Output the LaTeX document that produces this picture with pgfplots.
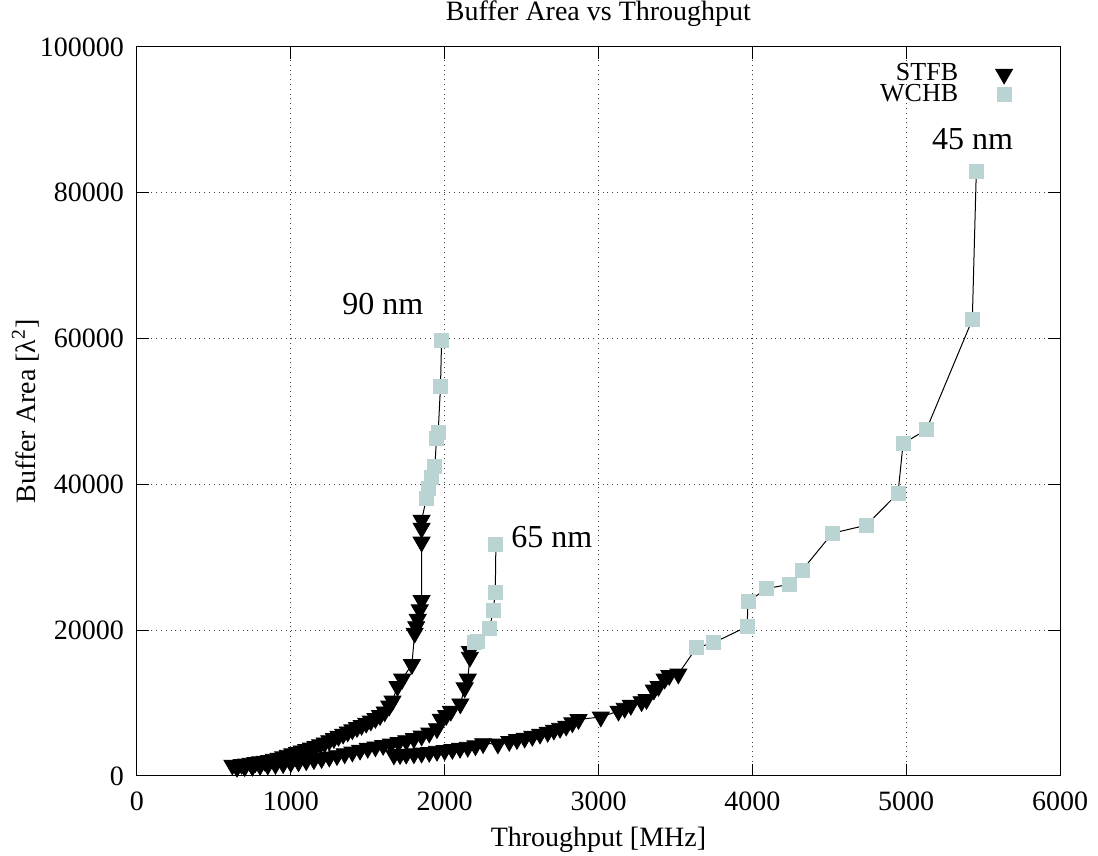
\documentclass[border=0pt]{standalone}
\usepackage{fontspec}
\setmainfont{Liberation Serif}
\usepackage{pgfplots}
\pgfplotsset{compat=1.18}
\usepackage{pgfplotstable}
\definecolor{wchb}{RGB}{185,212,211}
\pgfplotsset{legend image code/.code={\path[draw=none,fill=none] (-21pt,0pt) -- (0pt,0pt); \draw[mark repeat=1,#1] plot coordinates {(0pt,0pt)};}}

% t = 0: STFB, t = 1: WCHB
\pgfplotstableread{
x y t
620 1500 0
650 1450 0
680 1600 0
710 1650 0
740 1750 0
770 1850 0
800 1950 0
830 2050 0
860 2150 0
890 2300 0
920 2450 0
950 2650 0
980 2850 0
1010 3050 0
1040 3250 0
1070 3450 0
1100 3650 0
1130 3850 0
1160 4050 0
1190 4300 0
1220 4550 0
1250 4850 0
1280 5150 0
1310 5450 0
1340 5750 0
1370 6050 0
1400 6350 0
1430 6650 0
1460 6950 0
1490 7250 0
1520 7550 0
1550 7900 0
1580 8300 0
1610 8800 0
1640 9600 0
1661 10300 0
1693 12300 0
1724 13300 0
1787 15300 0
1805 19600 0
1815 20500 0
1825 21500 0
1838 22800 0
1850 24100 0
1850 32100 0
1850 34000 0
1850 35100 0
1882 38100 1
1891 39500 1
1915 41000 1
1936 42400 1
1947 46300 1
1958 47200 1
1973 53500 1
1980 59800 1
}\nmninety

\pgfplotstableread{
x y t
650 1200 0
700 1300 0
750 1350 0
800 1450 0
850 1500 0
900 1600 0
950 1700 0
1000 1850 0
1050 1950 0
1100 2100 0
1150 2250 0
1200 2400 0
1250 2600 0
1300 2800 0
1350 3050 0
1400 3300 0
1450 3550 0
1500 3800 0
1550 4000 0
1600 4200 0
1650 4400 0
1700 4600 0
1750 4850 0
1800 5150 0
1850 5500 0
1900 5900 0
1950 6500 0
1975 7800 0
2010 8300 0
2040 8900 0
2102 9900 0
2130 12100 0
2150 13300 0
2164 16300 0
2164 17100 0
2195 18300 1
2215 18500 1
2291 20200 1
2316 22700 1
2329 25200 1
2333 31800 1
}\nmsixtyfive

\pgfplotstableread{
x y t
1670 2900 0
1710 2950 0
1750 3000 0
1800 3050 0
1850 3150 0
1900 3250 0
1950 3400 0
2000 3500 0
2050 3650 0
2100 3800 0
2150 3950 0
2200 4150 0
2250 4450 0
2346 4400 0
2420 4750 0
2470 5000 0
2520 5200 0
2570 5450 0
2620 5750 0
2670 6000 0
2710 6300 0
2750 6550 0
2790 6850 0
2830 7300 0
2870 7750 0
3015 8100 0
3130 8900 0
3170 9300 0
3210 9700 0
3280 10200 0
3312 10500 0
3360 11800 0
3390 12300 0
3430 13300 0
3460 13800 0
3519 14000 0
3637 17600 1
3750 18300 1
3966 20500 1
3972 23900 1
4091 25700 1
4243 26300 1
4323 28200 1
4520 33300 1
4741 34400 1
4947 38800 1
4980 45600 1
5131 47500 1
5430 62600 1
5456 83000 1
}\nmfortyfive

\begin{document}
\fontsize{14}{17}\selectfont
\begin{tikzpicture}
\useasboundingbox (-68.5pt,-40pt) rectangle (480.5pt,388pt);
\begin{axis}[
  at={(0,0)}, anchor=south west,
  width=461.5pt, height=364.5pt, scale only axis,
  xmin=0, xmax=6000, ymin=0, ymax=100000,
  xtick={0,1000,...,6000}, ytick={0,20000,...,100000},
  scaled ticks=false,
  /pgf/number format/fixed,
  /pgf/number format/1000 sep={},
  /pgf/number format/assume math mode=true,
  tick align=inside, tick pos=both, major tick length=6pt,
  minor tick num=0,
  tick style={black, line width=0.5pt},
  axis line style={black, line width=0.5pt},
  grid=major,
  major grid style={dotted, black!75, line width=0.5pt},
  xticklabel style={yshift=-3pt},
  yticklabel style={xshift=-1.7pt},
  title={Buffer Area vs Throughput},
  every axis title shift=0pt,
  title style={at={(axis description cs:0.5,1)}, anchor=base, yshift=13pt},
  xlabel={Throughput [MHz]},
  xlabel style={at={(axis description cs:0.5,0)}, anchor=base, yshift=-35.5pt},
  ylabel={Buffer Area [λ\textsuperscript{2}]},
  ylabel style={at={(axis description cs:-0.1208,0.5)}, anchor=center},
  legend style={draw=none, fill=none, at={(axis description cs:1,1)}, anchor=north east,
    xshift=-20.5pt, yshift=-4pt, row sep=-4.5pt, font=\fontsize{13}{15}\selectfont},
  legend cell align=right,
  legend plot pos=right,
]
% markers
\addplot[only marks, mark=triangle*, mark size=4.9pt, mark options={rotate=180, fill=black, draw=black},
  restrict expr to domain={\thisrow{t}}{0:0}] table[x=x, y=y] {\nmninety};
\addlegendentry{STFB}
\addplot[only marks, mark=square*, mark size=3.5pt, mark options={fill=wchb, draw=wchb},
  restrict expr to domain={\thisrow{t}}{1:1}] table[x=x, y=y] {\nmninety};
\addlegendentry{WCHB}
\addplot[forget plot, only marks, mark=triangle*, mark size=4.9pt, mark options={rotate=180, fill=black, draw=black},
  restrict expr to domain={\thisrow{t}}{0:0}] table[x=x, y=y] {\nmsixtyfive};
\addplot[forget plot, only marks, mark=square*, mark size=3.5pt, mark options={fill=wchb, draw=wchb},
  restrict expr to domain={\thisrow{t}}{1:1}] table[x=x, y=y] {\nmsixtyfive};
\addplot[forget plot, only marks, mark=triangle*, mark size=4.9pt, mark options={rotate=180, fill=black, draw=black},
  restrict expr to domain={\thisrow{t}}{0:0}] table[x=x, y=y] {\nmfortyfive};
\addplot[forget plot, only marks, mark=square*, mark size=3.5pt, mark options={fill=wchb, draw=wchb},
  restrict expr to domain={\thisrow{t}}{1:1}] table[x=x, y=y] {\nmfortyfive};
% connecting lines
\addplot[forget plot, black, line width=0.5pt, no marks] table[x=x, y=y] {\nmninety};
\addplot[forget plot, black, line width=0.5pt, no marks] table[x=x, y=y] {\nmsixtyfive};
\addplot[forget plot, black, line width=0.5pt, no marks] table[x=x, y=y] {\nmfortyfive};
% annotations
\node[anchor=center, font=\fontsize{16}{19}\selectfont] at (axis cs:1598,64700) {90 nm};
\node[anchor=center, font=\fontsize{16}{19}\selectfont] at (axis cs:2697,32800) {65 nm};
\node[anchor=center, font=\fontsize{16}{19}\selectfont] at (axis cs:5432,87400) {45 nm};
\end{axis}
\end{tikzpicture}
\end{document}
